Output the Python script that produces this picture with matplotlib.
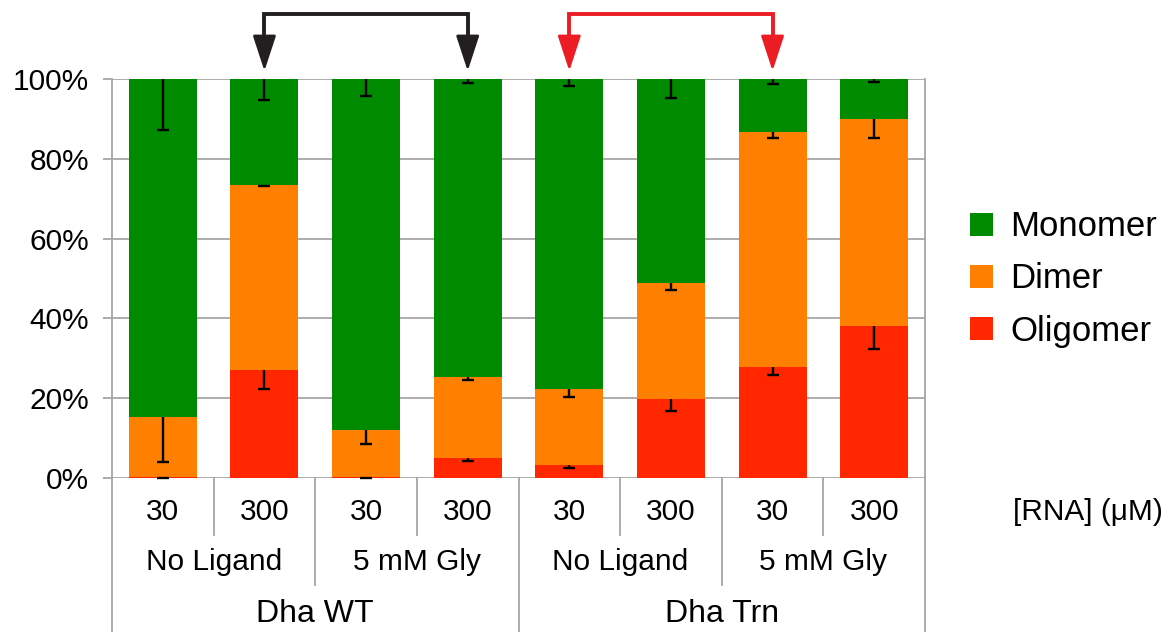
import matplotlib
matplotlib.use("Agg")
import matplotlib.pyplot as plt
import numpy as np
from matplotlib.patches import Patch

plt.rcParams['font.family'] = ['Liberation Sans', 'DejaVu Sans']

# ---- data ----
rna_labels = ["30", "300", "30", "300", "30", "300", "30", "300"]
ligand_labels = ["No Ligand", "5 mM Gly", "No Ligand", "5 mM Gly"]
construct_labels = ["Dha WT", "Dha Trn"]
series_names = ["Oligomer", "Dimer", "Monomer"]

oligomer = [0.3, 27.0, 0.3, 5.0, 3.2, 19.7, 27.8, 38.1]
dimer = [14.9, 46.5, 11.7, 20.3, 19.0, 29.1, 59.0, 51.8]
monomer = [84.8, 26.5, 88.0, 74.7, 77.8, 51.2, 13.2, 10.1]

oligomer_err = [0.3, 4.8, 0.3, 0.7, 0.7, 2.9, 2.0, 5.8]
dimer_err = [11.3, 0.3, 3.5, 0.7, 1.8, 1.7, 1.6, 4.7]
monomer_err = [12.7, 5.2, 4.2, 1.0, 1.7, 4.7, 1.3, 0.7]

colors = {"Oligomer": "#ff2600", "Dimer": "#ff7f00", "Monomer": "#008a00"}
arrow_pairs = [(1, 3, "#231f20"), (4, 6, "#ec1c24")]

# ---- figure ----
fig = plt.figure(figsize=(11.7, 6.32), dpi=100)
ax = fig.add_axes([112/1170, 1-478/632, (925-112)/1170, (478-79)/632])

n = len(rna_labels)
x = np.arange(n) + 0.5
width = 0.67
gray = "#a6a6a6"

bottom = np.zeros(n)
for name, vals, errs in [("Oligomer", oligomer, oligomer_err),
                         ("Dimer", dimer, dimer_err),
                         ("Monomer", monomer, monomer_err)]:
    vals = np.array(vals)
    errs = np.array(errs)
    ax.bar(x, vals, width, bottom=bottom, color=colors[name], zorder=2)
    top = bottom + vals
    ax.errorbar(x, top, yerr=[errs, np.zeros(n)], fmt='none',
                ecolor='black', elinewidth=1.7, capsize=0,
                zorder=3, clip_on=False)
    ax.plot(x, top - errs, linestyle='none', marker='_', markersize=9,
            markeredgewidth=1.7, color='black', zorder=3, clip_on=False)
    bottom = top

ax.set_xlim(0, n)
ax.set_ylim(0, 100)
ax.set_yticks(np.arange(0, 101, 20))
ax.set_yticklabels([f"{v}%" for v in range(0, 101, 20)], fontsize=21.5)
ax.yaxis.grid(True, color=gray, lw=1.3, zorder=0)
ax.set_axisbelow(True)
ax.tick_params(axis='y', length=6.5, width=1.3, color=gray, pad=10)
ax.set_xticks([])
for s in ["top", "bottom"]:
    ax.spines[s].set_visible(False)
for s in ["left", "right"]:
    ax.spines[s].set_color(gray)
    ax.spines[s].set_linewidth(1.3)

# ---- category table below the axis ----
px = 3.99  # pixels per data unit in y
def yd(pix):
    return (478 - pix) / px

for b in range(0, n + 1):
    if b % 4 == 0:
        yb = yd(640)
    elif b % 2 == 0:
        yb = yd(585)
    else:
        yb = yd(535)
    ax.plot([b, b], [0, yb], color=gray, lw=1.3, clip_on=False, zorder=1)

for i, lab in enumerate(rna_labels):
    ax.text(x[i], yd(520), lab, ha='center', va='baseline', fontsize=21.5, clip_on=False)
for i, lab in enumerate(ligand_labels):
    ax.text(2*i + 1, yd(570), lab, ha='center', va='baseline', fontsize=21.5, clip_on=False)
for i, lab in enumerate(construct_labels):
    ax.text(4*i + 2, yd(622), lab, ha='center', va='baseline', fontsize=23, clip_on=False)
fig.text(1013/1170, 1-520/632, "[RNA] (\u03bcM)", ha='left', va='baseline', fontsize=21.5)

# ---- arrows ----
y_top = yd(14)
y_base = yd(44)
y_tip = yd(71)
for i1, i2, c in arrow_pairs:
    ax.plot([x[i1], x[i1], x[i2], x[i2]], [y_base, y_top, y_top, y_base],
            color=c, lw=2.8, clip_on=False, solid_joinstyle='miter',
            solid_capstyle='butt', zorder=4)
    for xi in (x[i1], x[i2]):
        ax.annotate('', xy=(xi, y_tip), xytext=(xi, y_base + 1),
                    xycoords='data', annotation_clip=False,
                    arrowprops=dict(arrowstyle='-|>,head_length=1.1,head_width=0.36',
                                    mutation_scale=20, color=c, lw=2.0,
                                    shrinkA=0, shrinkB=0))

# ---- legend ----
handles = [Patch(facecolor=colors[nm], edgecolor='none') for nm in ["Monomer", "Dimer", "Oligomer"]]
fig.legend(handles, ["Monomer", "Dimer", "Oligomer"], loc='center left',
           bbox_to_anchor=(970/1170, 1-279/632), frameon=False, fontsize=25,
           handlelength=0.66, handleheight=0.66, handletextpad=0.5,
           labelspacing=0.55, borderpad=0, borderaxespad=0)

fig.savefig("out.png", dpi=100)
